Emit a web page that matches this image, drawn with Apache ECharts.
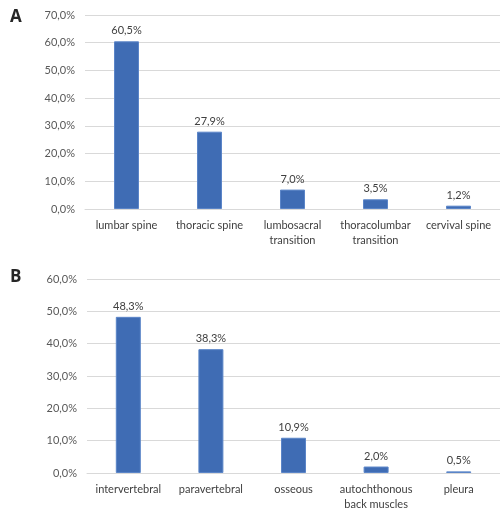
<!DOCTYPE html>
<html>
<head>
<meta charset="utf-8">
<script src="https://cdn.jsdelivr.net/npm/echarts@6/dist/echarts.min.js"></script>
<style>html,body{margin:0;padding:0;background:#fff}#c{width:500px;height:515px}</style>
</head>
<body>
<div id="c"></div>
<script>
var categoriesA = ['lumbar spine', 'thoracic spine', 'lumbosacral\ntransition', 'thoracolumbar\ntransition', 'cervival spine'];
var valuesA = [60.5, 27.9, 7.0, 3.5, 1.2];
var categoriesB = ['intervertebral', 'paravertebral', 'osseous', 'autochthonous\nback muscles', 'pleura'];
var valuesB = [48.3, 38.3, 10.9, 2.0, 0.5];
var panelLabels = ['A', 'B'];

var FONT = 'Lato, "Open Sans", sans-serif';
function pct(v) { return v.toFixed(1).replace('.', ',') + '%'; }

function xAxis(idx, cats) {
  return {
    type: 'category', gridIndex: idx, data: cats,
    axisLine: { lineStyle: { color: '#d9d9d9', width: 1 } },
    axisTick: { show: false },
    axisLabel: { color: '#404040', fontSize: 11, fontFamily: FONT, margin: 9, lineHeight: 15, interval: 0 }
  };
}
function yAxis(idx, max) {
  return {
    type: 'value', gridIndex: idx, min: 0, max: max, interval: 10,
    axisLine: { show: false }, axisTick: { show: false },
    splitLine: { lineStyle: { color: '#d9d9d9', width: 1 } },
    axisLabel: { color: '#595959', fontSize: 11, fontFamily: FONT, margin: 10, formatter: function (v) { return pct(v); } }
  };
}
function series(idx, vals) {
  return {
    type: 'bar', xAxisIndex: idx, yAxisIndex: idx, data: vals, barWidth: 25,
    itemStyle: { color: '#3f6cb4', borderColor: '#5b85c8', borderWidth: 1 },
    label: { show: true, position: 'top', distance: 5, color: '#404040', fontSize: 11, fontFamily: FONT, formatter: function (p) { return pct(p.value); } },
    animation: false
  };
}

var chart = echarts.init(document.getElementById('c'), null, { renderer: 'canvas' });
chart.setOption({
  animation: false,
  graphic: [
    { type: 'text', left: 10, top: 9, style: { text: panelLabels[0], fontSize: 17, fontWeight: 'bold', fill: '#262626', fontFamily: '"Open Sans", sans-serif' } },
    { type: 'text', left: 10, top: 269, style: { text: panelLabels[1], fontSize: 17, fontWeight: 'bold', fill: '#262626', fontFamily: '"Open Sans", sans-serif' } }
  ],
  grid: [
    { left: 85, right: 0, top: 15, height: 194 },
    { left: 87, right: 0, top: 279, height: 194 }
  ],
  xAxis: [xAxis(0, categoriesA), xAxis(1, categoriesB)],
  yAxis: [yAxis(0, 70), yAxis(1, 60)],
  series: [series(0, valuesA), series(1, valuesB)]
});
</script>
</body>
</html>
